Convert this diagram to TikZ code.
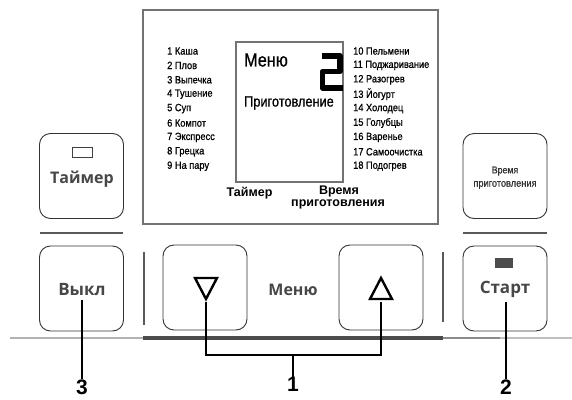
\documentclass[tikz,border=0pt]{standalone}
\usepackage{fontspec}
\setmainfont{Liberation Sans}
\newfontfamily\dispfont[FakeStretch=0.88,FakeBold=0.8]{Liberation Sans}
\newfontfamily\menufont[FakeStretch=0.85,FakeBold=0.8]{Liberation Sans}
\newfontfamily\btnfont{Open Sans}
\begin{document}
\begin{tikzpicture}[x=1pt,y=-1pt,
  btn/.style={draw=black!80, line width=0.9pt, rounded corners=11pt, minimum width=84pt, minimum height=85pt, inner sep=0pt},
  frm/.style={draw=black!55, line width=1.1pt},
  sep/.style={draw=black!65, line width=1.2pt},
  lead/.style={draw=black, line width=1.8pt},
  num/.style={font=\bfseries\fontsize{21}{21}\selectfont, inner sep=0pt},
  item/.style={font=\dispfont\fontsize{10.5}{11}\selectfont, anchor=west, inner sep=0pt},
  btxt/.style={font=\btnfont\bfseries\fontsize{17}{17}\selectfont, text=black!72, inner sep=0pt},
  dlbl/.style={font=\bfseries\fontsize{12.5}{12.5}\selectfont, inner sep=0pt},
]
\useasboundingbox (0,0) rectangle (572,399);

% display
\draw[frm] (143,10) rectangle (438,224);
\node[frm, draw, minimum width=107pt, minimum height=140pt, inner sep=0pt] (screen) at (289.5,112) {};
\node[font=\menufont\fontsize{19}{19}\selectfont, anchor=west, inner sep=0pt] (menut) at (244,60) {Меню};
\node[font=\menufont\fontsize{15}{15}\selectfont, anchor=west, inner sep=0pt] (cookt) at (244,103) {Приготовление};
\draw[line width=5.5pt, line join=round] (322,56) -- (340,56) -- (340,71.5) -- (322.5,71.5) -- (322.5,88) -- (343,88);

% lists
\foreach \t [count=\i] in {1 Каша, 2 Плов, 3 Выпечка, 4 Тушение, 5 Суп, 6 Компот, 7 Экспресс, 8 Грецка, 9 На пару}
  \node[item] (l\i) at (167,{51+(\i-1)*14.4}) {\t};
\foreach \t [count=\i] in {10 Пельмени, 11 Поджаривание, 12 Разогрев, 13 Йогурт, 14 Холодец, 15 Голубцы, 16 Варенье, 17 Самоочистка, 18 Подогрев}
  \node[item] (r\i) at (353,{51+(\i-1)*14.4}) {\t};

\node[dlbl] (dtimer) at (249.5,193) {Таймер};
\node[dlbl] (dtime1) at (339,191) {Время};
\node[dlbl] (dtime2) at (338,204.5) {приготовления};

% buttons
\node[btn] (timer) at (81.5,176) {};
\draw[black!75, line width=0.9pt] (72,147) rectangle (92,157);
\node[btxt, font=\btnfont\bfseries\fontsize{16}{16}\selectfont] (timert) at (82,179) {Таймер};

\node[btn] (cook) at (505,176) {};
\node[font=\dispfont\fontsize{10}{10}\selectfont, text=black!80, inner sep=0pt] (cook1) at (505,171) {Время};
\node[font=\dispfont\fontsize{10.5}{10.5}\selectfont, text=black!80, inner sep=0pt] (cook2) at (505,185) {приготовления};

\node[btn] (off) at (81.5,288.5) {};
\node[btxt] (offt) at (82,290) {Выкл};

\node[btn] (start) at (505,288.5) {};
\fill[black!70] (495,258) rectangle (513,268);
\node[btxt] (startt) at (505,289) {Старт};

\node[btn] (down) at (205,287.5) {};
\node[btn] (up) at (381,287.5) {};
\node[btxt, font=\btnfont\bfseries\fontsize{16}{16}\selectfont] (menu) at (293,290) {Меню};
\draw[black, line width=2.4pt, line join=miter] (195,278) -- (217,278) -- (206,299) -- cycle;
\draw[black, line width=2.4pt, line join=miter] (370,299) -- (392,299) -- (381,278) -- cycle;

% separators
\draw[sep] (40,233) -- (123,233);
\draw[sep] (463,233) -- (547,233);
\draw[sep] (144,252) -- (144,325);
\draw[sep] (443,252) -- (443,322);
\draw[black!30, line width=2.2pt] (10,338) -- (143,338);
\draw[black!70, line width=3.5pt] (143,338) -- (443,338);
\draw[black!45, line width=2.5pt] (443,338) -- (500,338);
\draw[black!25, line width=2pt] (500,338) -- (572,338);

% leaders
\node[num] (n3) at (82,387) {3};
\node[num] (n1) at (293,384) {1};
\node[num] (n2) at (506,387) {2};
\coordinate (a3) at (82,300);
\coordinate (a2) at (506,302);
\coordinate (ad) at (206,302);
\coordinate (au) at (381,302);
\coordinate (bd) at (206,355);
\coordinate (bu) at (381,355);
\coordinate (bm) at (293,355);
\draw[lead] (a3) -- (n3.north);
\draw[lead] (a2) -- (n2.north);
\draw[lead] (ad) -- (bd) -- (bu) -- (au);
\draw[lead] (bm) -- (n1.north);
\end{tikzpicture}
\end{document}
